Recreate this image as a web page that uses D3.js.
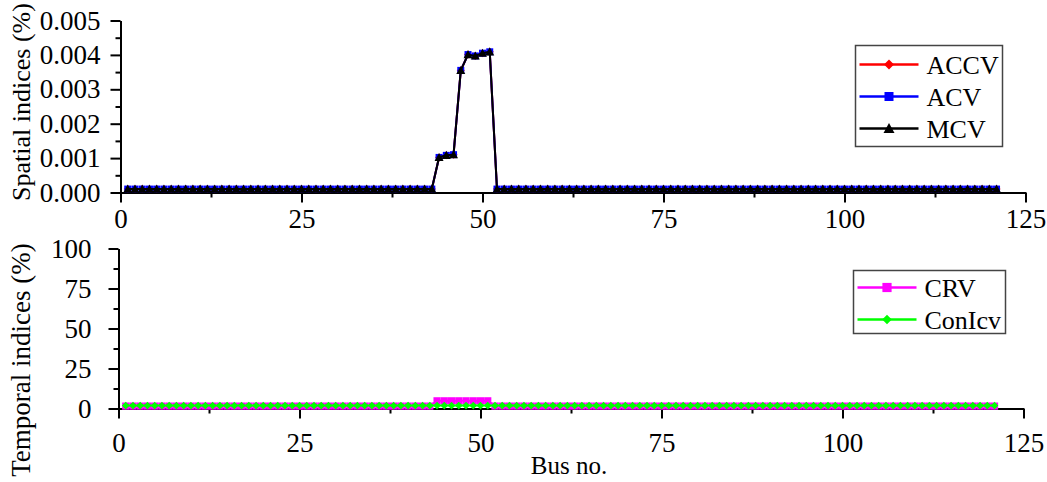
<!DOCTYPE html>
<html>
<head>
<meta charset="utf-8">
<script src="https://cdn.jsdelivr.net/npm/d3@7"></script>
<style>
  body { margin: 0; background: #fff; }
  text { font-family: "Liberation Serif", "Times New Roman", serif; fill: #000; }
</style>
</head>
<body>
<svg id="chart" width="1047" height="482"></svg>
<script>
// bus numbers 1..121
var buses = d3.range(1, 122);

// spatial indices (%)
var accv = [
  1e-4, 1e-4, 1e-4, 1e-4, 1e-4, 1e-4, 1e-4, 1e-4, 1e-4, 1e-4,   // 1-10
  1e-4, 1e-4, 1e-4, 1e-4, 1e-4, 1e-4, 1e-4, 1e-4, 1e-4, 1e-4,   // 11-20
  1e-4, 1e-4, 1e-4, 1e-4, 1e-4, 1e-4, 1e-4, 1e-4, 1e-4, 1e-4,   // 21-30
  1e-4, 1e-4, 1e-4, 1e-4, 1e-4, 1e-4, 1e-4, 1e-4, 1e-4, 1e-4,   // 31-40
  1e-4, 1e-4, 1e-4, 0.00102, 0.00108, 0.00110, 0.00355, 0.00401, 0.00397, 0.00405, // 41-50
  0.00409, 1e-4, 1e-4, 1e-4, 1e-4, 1e-4, 1e-4, 1e-4, 1e-4, 1e-4, // 51-60
  1e-4, 1e-4, 1e-4, 1e-4, 1e-4, 1e-4, 1e-4, 1e-4, 1e-4, 1e-4,   // 61-70
  1e-4, 1e-4, 1e-4, 1e-4, 1e-4, 1e-4, 1e-4, 1e-4, 1e-4, 1e-4,   // 71-80
  1e-4, 1e-4, 1e-4, 1e-4, 1e-4, 1e-4, 1e-4, 1e-4, 1e-4, 1e-4,   // 81-90
  1e-4, 1e-4, 1e-4, 1e-4, 1e-4, 1e-4, 1e-4, 1e-4, 1e-4, 1e-4,   // 91-100
  1e-4, 1e-4, 1e-4, 1e-4, 1e-4, 1e-4, 1e-4, 1e-4, 1e-4, 1e-4,   // 101-110
  1e-4, 1e-4, 1e-4, 1e-4, 1e-4, 1e-4, 1e-4, 1e-4, 1e-4, 1e-4,   // 111-120
  1e-4                                                          // 121
];
// ACV and MCV sit right on top of ACCV in the picture
var acv = accv.slice();
var mcv = accv.slice();

// temporal indices (%), bottom panel
var crv = [
  1.5, 1.5, 1.5, 1.5, 1.5, 1.5, 1.5, 1.5, 1.5, 1.5,   // 1-10
  1.5, 1.5, 1.5, 1.5, 1.5, 1.5, 1.5, 1.5, 1.5, 1.5,   // 11-20
  1.5, 1.5, 1.5, 1.5, 1.5, 1.5, 1.5, 1.5, 1.5, 1.5,   // 21-30
  1.5, 1.5, 1.5, 1.5, 1.5, 1.5, 1.5, 1.5, 1.5, 1.5,   // 31-40
  1.5, 1.5, 1.5, 4.8, 4.8, 4.8, 4.8, 4.8, 4.8, 4.8,   // 41-50
  4.8, 1.5, 1.5, 1.5, 1.5, 1.5, 1.5, 1.5, 1.5, 1.5,   // 51-60
  1.5, 1.5, 1.5, 1.5, 1.5, 1.5, 1.5, 1.5, 1.5, 1.5,   // 61-70
  1.5, 1.5, 1.5, 1.5, 1.5, 1.5, 1.5, 1.5, 1.5, 1.5,   // 71-80
  1.5, 1.5, 1.5, 1.5, 1.5, 1.5, 1.5, 1.5, 1.5, 1.5,   // 81-90
  1.5, 1.5, 1.5, 1.5, 1.5, 1.5, 1.5, 1.5, 1.5, 1.5,   // 91-100
  1.5, 1.5, 1.5, 1.5, 1.5, 1.5, 1.5, 1.5, 1.5, 1.5,   // 101-110
  1.5, 1.5, 1.5, 1.5, 1.5, 1.5, 1.5, 1.5, 1.5, 1.5,   // 111-120
  1.5                                                 // 121
];
var conIcv = [
  1.8, 1.8, 1.8, 1.8, 1.8, 1.8, 1.8, 1.8, 1.8, 1.8,
  1.8, 1.8, 1.8, 1.8, 1.8, 1.8, 1.8, 1.8, 1.8, 1.8,
  1.8, 1.8, 1.8, 1.8, 1.8, 1.8, 1.8, 1.8, 1.8, 1.8,
  1.8, 1.8, 1.8, 1.8, 1.8, 1.8, 1.8, 1.8, 1.8, 1.8,
  1.8, 1.8, 1.8, 1.8, 1.8, 1.8, 1.8, 1.8, 1.8, 1.8,
  1.8, 1.8, 1.8, 1.8, 1.8, 1.8, 1.8, 1.8, 1.8, 1.8,
  1.8, 1.8, 1.8, 1.8, 1.8, 1.8, 1.8, 1.8, 1.8, 1.8,
  1.8, 1.8, 1.8, 1.8, 1.8, 1.8, 1.8, 1.8, 1.8, 1.8,
  1.8, 1.8, 1.8, 1.8, 1.8, 1.8, 1.8, 1.8, 1.8, 1.8,
  1.8, 1.8, 1.8, 1.8, 1.8, 1.8, 1.8, 1.8, 1.8, 1.8,
  1.8, 1.8, 1.8, 1.8, 1.8, 1.8, 1.8, 1.8, 1.8, 1.8,
  1.8, 1.8, 1.8, 1.8, 1.8, 1.8, 1.8, 1.8, 1.8, 1.8,
  1.8
];

var xTicks = [0, 25, 50, 75, 100, 125];
var spatialTicks = [0, 0.001, 0.002, 0.003, 0.004, 0.005];
var temporalTicks = [0, 25, 50, 75, 100];

var svg = d3.select('#chart');

// marker shapes, s = half width
var shapes = {
  diamond: function(s) { return 'M0,' + (-s) + 'L' + s + ',0L0,' + s + 'L' + (-s) + ',0Z'; },
  square: function(s) { return 'M' + (-s) + ',' + (-s) + 'h' + (2 * s) + 'v' + (2 * s) + 'h' + (-2 * s) + 'Z'; },
  triangle: function(s) { return 'M0,' + (-s) + 'L' + s + ',' + (s * 0.8) + 'L' + (-s) + ',' + (s * 0.8) + 'Z'; }
};

var drawPanel = function(opt) {
  var x = d3.scaleLinear().domain([0, 125]).range([opt.left, opt.right]);
  var y = d3.scaleLinear().domain(opt.yDomain).range([opt.bottom, opt.top]);
  var g = svg.append('g');

  // minor ticks first, then major axis on top
  g.append('g')
    .attr('transform', 'translate(0,' + opt.bottom + ')')
    .call(d3.axisBottom(x).tickValues(d3.range(12.5, 125, 25)).tickSize(5).tickFormat(''))
    .call(function(a) { a.select('.domain').remove(); });
  g.append('g')
    .attr('transform', 'translate(' + opt.left + ',0)')
    .call(d3.axisLeft(y).tickValues(opt.yMinor).tickSize(5).tickFormat(''))
    .call(function(a) { a.select('.domain').remove(); });

  g.append('g')
    .attr('transform', 'translate(0,' + opt.bottom + ')')
    .call(d3.axisBottom(x).tickValues(xTicks).tickSize(10).tickSizeOuter(0).tickPadding(opt.xPad));
  g.append('g')
    .attr('transform', 'translate(' + opt.left + ',0)')
    .call(d3.axisLeft(y).tickValues(opt.yTicks).tickSize(10).tickSizeOuter(0).tickPadding(opt.yPad).tickFormat(opt.yFormat));

  g.selectAll('.domain, .tick line').attr('stroke', '#000').attr('stroke-width', 2);
  g.selectAll('.tick text')
    .style('font-family', '"Liberation Serif", serif')
    .style('font-size', '27px')
    .attr('fill', '#000');

  // series
  opt.series.forEach(function(s) {
    var pts = buses.map(function(b, i) { return [b, s.values[i]]; });
    g.append('path')
      .datum(pts)
      .attr('fill', 'none')
      .attr('stroke', s.color)
      .attr('stroke-width', 2)
      .attr('d', d3.line().x(function(d) { return x(d[0]); }).y(function(d) { return y(d[1]); }));
    g.append('g').selectAll('path').data(pts).enter().append('path')
      .attr('transform', function(d) { return 'translate(' + x(d[0]) + ',' + y(d[1]) + ')'; })
      .attr('d', shapes[s.shape](s.size))
      .attr('fill', s.color);
  });

  // legend
  var lg = g.append('g').attr('transform', 'translate(' + opt.legend.x + ',' + opt.legend.y + ')');
  lg.append('rect')
    .attr('width', opt.legend.w)
    .attr('height', opt.legend.h)
    .attr('fill', '#fff')
    .attr('stroke', '#444')
    .attr('stroke-width', 1.5);
  opt.series.forEach(function(s, i) {
    var row = lg.append('g').attr('transform', 'translate(0,' + (opt.legend.first + i * opt.legend.step) + ')');
    row.append('line').attr('x1', 4).attr('x2', 63).attr('stroke', s.color).attr('stroke-width', 2.5);
    row.append('path').attr('transform', 'translate(33.5,0)').attr('d', shapes[s.shape](s.size + 1)).attr('fill', s.color);
    row.append('text').attr('x', 71).attr('y', 9).style('font-size', '26px').text(s.name);
  });
};

drawPanel({
  left: 120.5, right: 1025.5, top: 20.5, bottom: 192.5,
  yDomain: [0, 0.005], yTicks: spatialTicks,
  yMinor: d3.range(0.0005, 0.005, 0.001),
  yFormat: d3.format('.3f'), xPad: 6, yPad: 10,
  series: [
    { name: 'ACCV', values: accv, color: '#ff0000', shape: 'diamond', size: 4 },
    { name: 'ACV', values: acv, color: '#0000ff', shape: 'square', size: 3.5 },
    { name: 'MCV', values: mcv, color: '#000000', shape: 'triangle', size: 4.5 }
  ],
  legend: { x: 855.5, y: 45.5, w: 147, h: 101, first: 19, step: 32 }
});

drawPanel({
  left: 118.5, right: 1023.5, top: 248.5, bottom: 408.5,
  yDomain: [0, 100], yTicks: temporalTicks,
  yMinor: d3.range(12.5, 100, 25),
  yFormat: d3.format('d'), xPad: 14, yPad: 17,
  series: [
    { name: 'CRV', values: crv, color: '#ff00ff', shape: 'square', size: 3.6 },
    { name: 'ConIcv', values: conIcv, color: '#00ff00', shape: 'diamond', size: 3.8 }
  ],
  legend: { x: 853.5, y: 270.5, w: 152, h: 63, first: 17, step: 32 }
});

// axis titles
svg.append('text')
  .attr('transform', 'translate(30,102) rotate(-90)')
  .attr('text-anchor', 'middle')
  .style('font-size', '26px')
  .text('Spatial indices (%)');
svg.append('text')
  .attr('transform', 'translate(30,360) rotate(-90)')
  .attr('text-anchor', 'middle')
  .style('font-size', '27px')
  .text('Temporal indices (%)');
svg.append('text')
  .attr('x', 569)
  .attr('y', 474)
  .attr('text-anchor', 'middle')
  .style('font-size', '25px')
  .text('Bus no.');
</script>
</body>
</html>
